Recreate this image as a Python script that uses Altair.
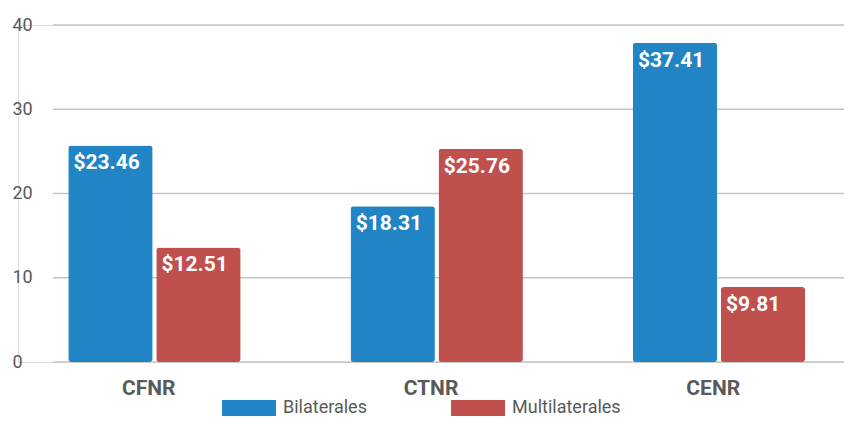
import altair as alt
import pandas as pd

categories = ["CFNR", "CTNR", "CENR"]
series = ["Bilaterales", "Multilaterales"]
# bar heights as drawn in the picture
bilaterales = [25.7, 18.5, 37.9]
multilaterales = [13.6, 25.3, 8.9]
# printed data labels
bil_labels = ["$23.46", "$18.31", "$37.41"]
mul_labels = ["$12.51", "$25.76", "$9.81"]
y_ticks = [0, 10, 20, 30, 40]
colors = ["#2185c5", "#c0504d"]

rows = []
for i, c in enumerate(categories):
    rows.append({"cat": c, "serie": series[0], "v": bilaterales[i], "lab": bil_labels[i]})
    rows.append({"cat": c, "serie": series[1], "v": multilaterales[i], "lab": mul_labels[i]})
df = pd.DataFrame(rows)
grid = pd.DataFrame({"g": y_ticks})

W, H = 826, 337
yscale = alt.Scale(domain=[0, 40], nice=False)
xscale = alt.Scale(paddingInner=0.4295, paddingOuter=0.178)
xoff = alt.Scale(range=[0, 172.4], paddingInner=0.041, paddingOuter=0)

gridlines = alt.Chart(grid).mark_rule(color="#c4c4c4", strokeWidth=1.3).encode(
    y=alt.Y("g:Q", scale=yscale,
            axis=alt.Axis(values=y_ticks, grid=False, domain=False, ticks=False, tickSize=0,
                          labelAlign="left", labelPadding=6, labelFontSize=18,
                          labelColor="#595959", labelFont="Roboto", title=None)),
    x=alt.value(35), x2=alt.value(W),
)

bars = alt.Chart(df).mark_bar(cornerRadius=3).encode(
    x=alt.X("cat:N", sort=categories, scale=xscale,
            axis=alt.Axis(domain=False, ticks=False, labelAngle=0, labelFontSize=21,
                          labelFontWeight="bold", labelColor="#595959", labelFont="Roboto",
                          labelPadding=15, title=None)),
    xOffset=alt.XOffset("serie:N", sort=series, scale=xoff),
    y=alt.Y("v:Q", scale=yscale, title=None),
    color=alt.Color("serie:N", sort=series, scale=alt.Scale(domain=series, range=colors),
                    legend=alt.Legend(orient="none", direction="horizontal", title=None,
                                      legendX=222, legendY=374,
                                      symbolType="M-3.375,-1H3.375V1H-3.375Z", symbolSize=256,
                                      symbolStrokeWidth=0, symbolOpacity=1,
                                      labelOffset=25, columnPadding=84, padding=0,
                                      labelFontSize=18, labelColor="#595959", labelFont="Roboto")),
)

labels = alt.Chart(df).mark_text(align="left", baseline="alphabetic", dx=-37, dy=24,
                                 fontSize=21, fontWeight="bold", font="Roboto",
                                 color="white").encode(
    x=alt.X("cat:N", sort=categories, scale=xscale),
    xOffset=alt.XOffset("serie:N", sort=series, scale=xoff),
    y=alt.Y("v:Q", scale=yscale),
    text="lab:N",
)

chart = alt.layer(gridlines, bars, labels).properties(
    width=W, height=H,
    autosize=alt.AutoSizeParams(type="none"),
    padding={"left": 10, "top": 17, "right": 0, "bottom": 55},
).configure_view(stroke=None).configure(background="white")

chart.save("out.html", embed_options={"renderer": "svg", "actions": False})
